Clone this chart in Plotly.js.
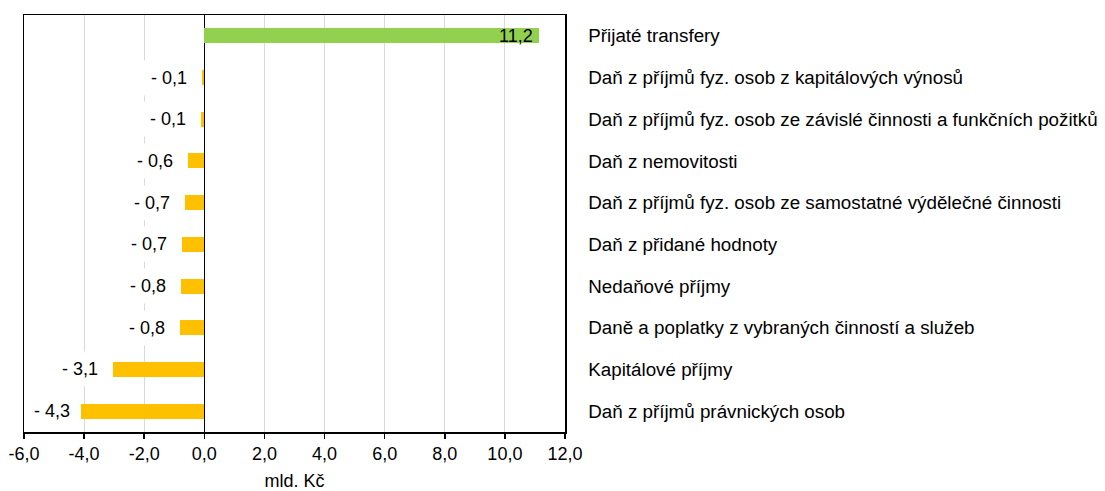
<!DOCTYPE html>
<html>
<head>
<meta charset="utf-8">
<script src="https://cdn.plot.ly/plotly-3.0.1.min.js"></script>
<style>html,body{margin:0;padding:0;background:#fff;}#chart{width:1105px;height:491px;}</style>
</head>
<body>
<div id="chart"></div>
<script>
// Categories (top to bottom)
const categories = [
  "Přijaté transfery",
  "Daň z příjmů fyz. osob z kapitálových výnosů",
  "Daň z příjmů fyz. osob ze závislé činnosti a funkčních požitků",
  "Daň z nemovitosti",
  "Daň z příjmů fyz. osob ze samostatné výdělečné činnosti",
  "Daň z přidané hodnoty",
  "Nedaňové příjmy",
  "Daně a poplatky z vybraných činností a služeb",
  "Kapitálové příjmy",
  "Daň z příjmů právnických osob"
];
// Bar values (mld. Kč)
const values = [11.15, -0.07, -0.1, -0.53, -0.63, -0.73, -0.76, -0.8, -3.03, -4.1];
// Data labels as printed on the chart
const valueLabels = ["11,2", "- 0,1", "- 0,1", "- 0,6", "- 0,7", "- 0,7", "- 0,8", "- 0,8", "- 3,1", "- 4,3"];
// X axis ticks
const tickVals = [-6, -4, -2, 0, 2, 4, 6, 8, 10, 12];
const tickText = ["-6,0", "-4,0", "-2,0", "0,0", "2,0", "4,0", "6,0", "8,0", "10,0", "12,0"];
const xTitle = "mld. Kč";

const FONT = "Liberation Sans, Arial, sans-serif";
const FS = 18;
const CAT_FS = 18.8;
const POS = "#92D050", NEG = "#FFC000";

const W = 1105, H = 491;
const margin = {l: 24, r: 540, t: 15, b: 59, pad: 0};
const xMin = tickVals[0], xMax = tickVals[tickVals.length - 1];
const plotW = W - margin.l - margin.r;
const ppu = plotW / (xMax - xMin);

const cv = document.createElement("canvas").getContext("2d");
cv.font = FS + "px " + FONT;

const borderpad = 7;
const annotations = values.map((v, i) => {
  if (v >= 0) {
    return {
      x: v, y: categories[i], xref: "x", yref: "y",
      text: valueLabels[i], showarrow: false,
      xanchor: "right", yanchor: "middle", xshift: -6,
      borderpad: 0, borderwidth: 0,
      font: {family: FONT, size: FS, color: "#000"}
    };
  }
  const tw = cv.measureText(valueLabels[i]).width;
  const barPx = (v - xMin) * ppu;             // relative to plot left
  const boxW = tw + 2 * (borderpad + 1);
  const minRight = boxW + 2;
  const xshift = Math.max(-7, minRight - barPx);
  return {
    x: v, y: categories[i], xref: "x", yref: "y",
    text: valueLabels[i], showarrow: false,
    xanchor: "right", yanchor: "middle", xshift: xshift,
    bgcolor: "#ffffff", borderpad: borderpad,
    font: {family: FONT, size: FS, color: "#000"}
  };
});

const trace = {
  type: "bar",
  orientation: "h",
  x: values,
  y: categories,
  width: 0.36,
  marker: {color: values.map(v => v >= 0 ? POS : NEG), line: {width: 0}},
  hoverinfo: "skip"
};

const layout = {
  width: W, height: H,
  margin: margin,
  paper_bgcolor: "#fff", plot_bgcolor: "#fff",
  showlegend: false,
  font: {family: FONT, size: FS, color: "#000"},
  bargap: 0,
  xaxis: {
    range: [xMin, xMax],
    tickvals: tickVals, ticktext: tickText,
    showgrid: true, gridcolor: "#d9d9d9", gridwidth: 1,
    zeroline: true, zerolinecolor: "#000", zerolinewidth: 1.5,
    showline: true, mirror: true, linecolor: "#000", linewidth: 1.5,
    ticks: "outside", ticklen: 5, tickwidth: 1.5, tickcolor: "#000",
    tickfont: {family: FONT, size: FS, color: "#000"},
    title: {text: xTitle, font: {family: FONT, size: FS, color: "#000"}, standoff: 12},
    fixedrange: true
  },
  yaxis: {
    type: "category",
    autorange: "reversed",
    side: "right",
    showgrid: false, zeroline: false,
    showline: true, mirror: true, linecolor: "#000", linewidth: 1.5,
    ticks: "",
    ticklabelstandoff: 18,
    tickfont: {family: FONT, size: CAT_FS, color: "#000"},
    fixedrange: true
  },
  annotations: annotations
};

Plotly.newPlot("chart", [trace], layout, {staticPlot: true, displayModeBar: false});
</script>
</body>
</html>
